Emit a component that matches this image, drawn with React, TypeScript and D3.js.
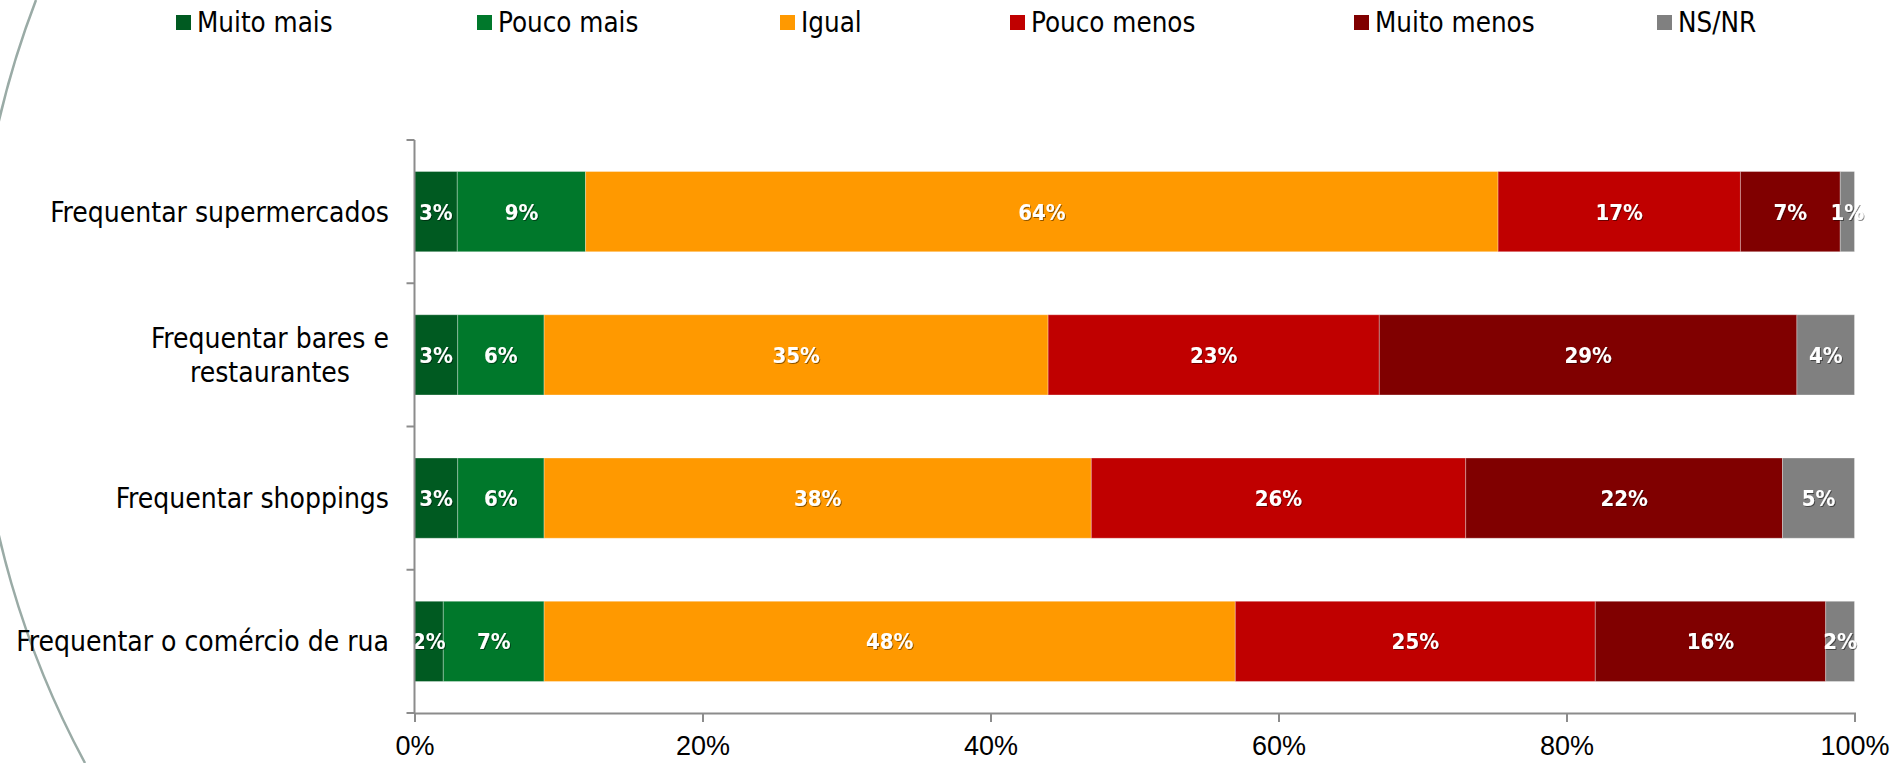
import { useEffect, useRef } from "react";
import * as d3 from "d3";

// categories (y axis), "\n" marks a line break in the label
const categories = [
  "Frequentar supermercados",
  "Frequentar bares e\nrestaurantes",
  "Frequentar shoppings",
  "Frequentar o comércio de rua",
];

const seriesNames = ["Muito mais", "Pouco mais", "Igual", "Pouco menos", "Muito menos", "NS/NR"];
const seriesColors = ["#005a21", "#00782b", "#ff9900", "#c00000", "#800000", "#808080"];

// values per series, one per category (percent)
const muitoMais = [3, 3, 3, 2];
const poucoMais = [9, 6, 6, 7];
const igual = [64, 35, 38, 48];
const poucoMenos = [17, 23, 26, 25];
const muitoMenos = [7, 29, 22, 16];
const nsNr = [1, 4, 5, 2];

const xTickValues = [0, 0.2, 0.4, 0.6, 0.8, 1];

const W = 1901;
const H = 763;
const labelFont = "'DejaVu Sans Condensed', 'DejaVu Sans', sans-serif";
const axisFont = "'Liberation Sans Narrow', 'Liberation Sans', sans-serif";

const App = () => {
  const svgRef = useRef<SVGSVGElement>(null);

  useEffect(() => {
    if (!svgRef.current) return;
    const svg = d3.select(svgRef.current);
    svg.selectAll("*").remove();

    const allSeries = [muitoMais, poucoMais, igual, poucoMenos, muitoMenos, nsNr];
    const rows = categories.map((c, i) => {
      const r: any = { cat: c };
      seriesNames.forEach((s, j) => (r[s] = allSeries[j][i]));
      return r;
    });

    // 100% stacked
    const stacked = d3
      .stack<any>()
      .keys(seriesNames)
      .offset(d3.stackOffsetExpand)(rows);

    const x = d3.scaleLinear().domain([0, 1]).range([414.5, 1854.5]);
    const y = d3
      .scaleBand()
      .domain(categories)
      .range([140, 713])
      .paddingInner(0.44)
      .paddingOuter(0.22);

    // decorative arc on the left edge
    svg
      .append("path")
      .attr("d", "M 36 0 A 915 915 0 0 0 85 763")
      .attr("fill", "none")
      .attr("stroke", "#9aaba6")
      .attr("stroke-width", 2.5);

    const defs = svg.append("defs");
    defs
      .append("filter")
      .attr("id", "lblShadow")
      .attr("x", "-20%")
      .attr("y", "-20%")
      .attr("width", "140%")
      .attr("height", "140%")
      .append("feDropShadow")
      .attr("dx", 1)
      .attr("dy", 1)
      .attr("stdDeviation", 0.6)
      .attr("flood-color", "#000")
      .attr("flood-opacity", 0.45);

    // bars
    const layers = svg
      .append("g")
      .selectAll("g")
      .data(stacked)
      .join("g")
      .attr("fill", (_d, i) => seriesColors[i]);

    layers
      .selectAll("rect")
      .data((d) => d)
      .join("rect")
      .attr("x", (d) => x(d[0]))
      .attr("y", (d) => y(d.data.cat) as number)
      .attr("width", (d) => x(d[1]) - x(d[0]))
      .attr("height", y.bandwidth())
      .attr("stroke", "rgba(255,255,255,0.3)")
      .attr("stroke-width", 1);

    // data labels
    stacked.forEach((layer) => {
      svg
        .append("g")
        .selectAll("text")
        .data(layer)
        .join("text")
        .attr("x", (d) => (x(d[0]) + x(d[1])) / 2)
        .attr("y", (d) => (y(d.data.cat) as number) + y.bandwidth() / 2)
        .attr("dy", "0.36em")
        .attr("text-anchor", "middle")
        .attr("fill", "#fff")
        .attr("font-family", labelFont)
        .style("font-stretch", "condensed")
        .attr("font-weight", "bold")
        .attr("font-size", 22)
        .attr("filter", "url(#lblShadow)")
        .text((d) => `${d.data[layer.key]}%`);
    });

    // y axis
    const axisColor = "#8c8c8c";
    svg
      .append("line")
      .attr("x1", x(0))
      .attr("x2", x(0))
      .attr("y1", 140)
      .attr("y2", 713)
      .attr("stroke", axisColor)
      .attr("stroke-width", 2);
    d3.range(categories.length + 1).forEach((i) => {
      const yy = 140 + i * y.step();
      svg
        .append("line")
        .attr("x1", x(0) - 8)
        .attr("x2", x(0))
        .attr("y1", yy)
        .attr("y2", yy)
        .attr("stroke", axisColor)
        .attr("stroke-width", 2);
    });

    // x axis
    const xAxis = svg
      .append("g")
      .attr("transform", `translate(0,713)`)
      .call(
        d3
          .axisBottom(x)
          .tickValues(xTickValues)
          .tickSize(9)
          .tickPadding(14)
          .tickFormat((d) => `${Math.round(+d * 100)}%`)
      );
    xAxis.select(".domain").attr("stroke", axisColor).attr("stroke-width", 2);
    xAxis.selectAll(".tick line").attr("stroke", axisColor).attr("stroke-width", 2);
    xAxis
      .selectAll(".tick text")
      .attr("fill", "#000")
      .attr("font-family", axisFont)
      .attr("font-size", 27);

    // category labels, multi-line ones centred as a block, right edge at 389
    categories.forEach((c) => {
      const lines = c.split("\n");
      const cy = (y(c) as number) + y.bandwidth() / 2;
      const t = svg
        .append("text")
        .attr("font-family", labelFont)
        .style("font-stretch", "condensed")
        .attr("font-size", 28)
        .attr("fill", "#000")
        .attr("text-anchor", "middle");
      const lh = 34;
      lines.forEach((ln, k) => {
        t.append("tspan")
          .attr("x", 0)
          .attr("y", cy + (k - (lines.length - 1) / 2) * lh)
          .attr("dy", "0.36em")
          .text(ln);
      });
      const w = (t.node() as SVGTextElement).getBBox().width;
      t.attr("transform", `translate(${389 - w / 2},0)`);
    });

    // legend
    const legendX = [176, 477, 780, 1010, 1354, 1657];
    const lg = svg
      .append("g")
      .selectAll("g")
      .data(seriesNames)
      .join("g")
      .attr("transform", (_d, i) => `translate(${legendX[i]},0)`);
    lg.append("rect")
      .attr("x", 0)
      .attr("y", 15)
      .attr("width", 15)
      .attr("height", 15)
      .attr("fill", (_d, i) => seriesColors[i]);
    lg.append("text")
      .attr("x", 21)
      .attr("y", 32)
      .attr("font-family", labelFont)
      .style("font-stretch", "condensed")
      .attr("font-size", 27.5)
      .attr("fill", "#000")
      .text((d) => d);
  }, []);

  return (
    <svg
      ref={svgRef}
      width={W}
      height={H}
      style={{ position: "absolute", left: 0, top: 0, background: "#fff" }}
    />
  );
};

export default App;
